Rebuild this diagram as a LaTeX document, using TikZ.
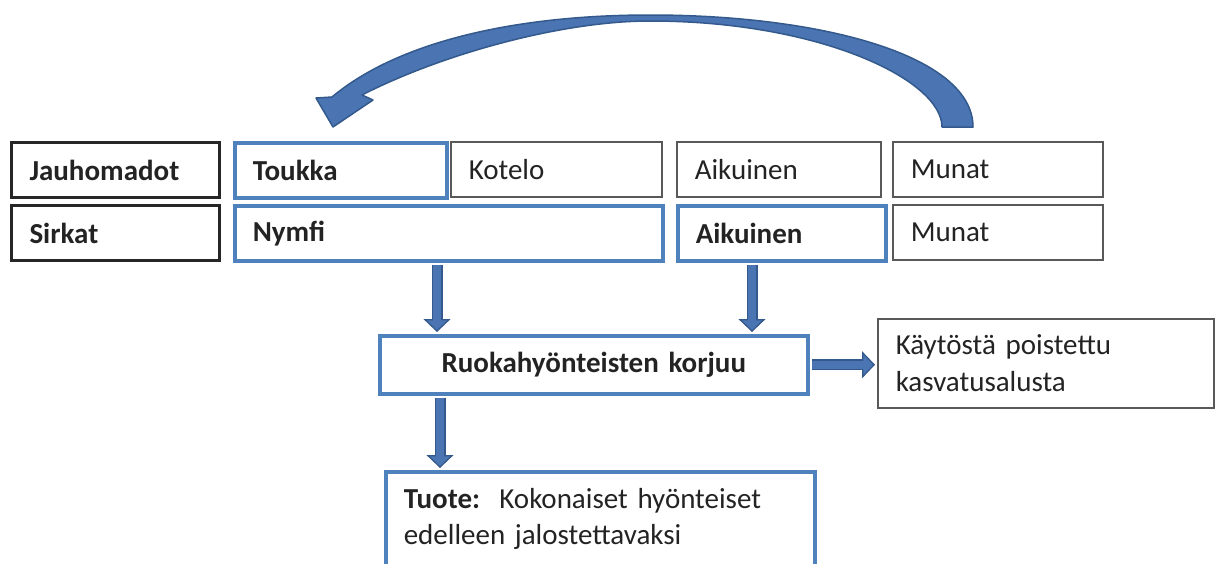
\documentclass[tikz,border=0pt]{standalone}
\usepackage{fontspec}
\setmainfont{Carlito}
\usepackage{tikz}
\usetikzlibrary{arrows.meta}
\definecolor{boxblue}{RGB}{79,129,189}
\definecolor{flowfill}{RGB}{74,117,178}
\definecolor{flowedge}{RGB}{52,89,140}
\definecolor{textgray}{RGB}{35,35,35}

\begin{document}
\begin{tikzpicture}[x=1pt, y=-1pt, font=\fontsize{29}{36.5}\selectfont, text=textgray,
  cell/.style={anchor=north west, inner xsep=18pt, inner ysep=0pt, align=left, minimum height=55pt},
  group/.style={cell, draw=black!85, line width=3pt},
  stage/.style={cell, draw=black!65, line width=1.5pt},
  active/.style={cell, draw=boxblue, line width=3.5pt},
  flow/.style={draw=flowfill, line width=8pt, shorten <=2pt, shorten >=2pt,
    -{Triangle[width=27pt, length=13pt, fill=flowfill, color=flowedge, line width=1.3pt]},
    preaction={draw=flowedge, line width=11pt, -, shorten >=13pt},
    postaction={draw=flowfill, line width=8pt, -, shorten >=12pt}},
  bigarrow/.style={fill=flowfill, draw=flowedge, line width=1.5pt, line join=round},
]
\useasboundingbox (0,0) rectangle (1215,563);

\node[group] (jauhomadot) at (10,141) [text width=172pt] {\textbf{Jauhomadot}};
\node[group] (sirkat) at (10,204) [text width=172pt] {\textbf{Sirkat}};
\node[active] (toukka) at (233,141) [text width=176pt] {\textbf{Toukka}};
\node[stage] (kotelo) at (450,141) [text width=175pt] {Kotelo};
\node[stage] (aikuinen1) at (676,141) [text width=168pt] {Aikuinen};
\node[stage] (munat1) at (892,141) [text width=174pt] {Munat};
\node[active] (nymfi) at (233,204) [text width=392pt] {\textbf{Nymfi}};
\node[active] (aikuinen2) at (676,204) [text width=172pt] {\textbf{Aikuinen}};
\node[stage] (munat2) at (892,204) [text width=174pt] {Munat};
\node[active, align=center, minimum height=58pt] (korjuu) at (378,334) [text width=392pt] {\textbf{Ruokahyönteisten korjuu}};
\node[stage, minimum height=89pt] (poisto) at (877,318) [text width=300pt] {Käytöstä poistettu\\kasvatusalusta};
\node[active, minimum height=94pt] (tuote) at (384,470) [text width=393pt] {\textbf{Tuote:}\ \ Kokonaiset hyönteiset\\edelleen jalostettavaksi};

% back to the start of the cycle
\filldraw[bigarrow] (973,127) .. controls (973,55) and (820,15) .. (650,15)
  .. controls (520,15) and (400,40) .. (332,97)
  -- (316,98) -- (333,127) -- (373,100) -- (362,95)
  .. controls (440,55) and (560,21) .. (650,21)
  .. controls (820,21) and (942,80) .. (942,127) -- cycle;

\draw[flow] ([xshift=204pt]nymfi.south west) -- ([xshift=59pt]korjuu.north west);
\draw[flow] ([xshift=76pt]aikuinen2.south west) -- ([xshift=374pt]korjuu.north west);
\draw[flow] ([xshift=62pt]korjuu.south west) -- ([xshift=56pt]tuote.north west);
\draw[flow] (korjuu.east) -- (korjuu.east -| poisto.west);
\end{tikzpicture}
\end{document}
